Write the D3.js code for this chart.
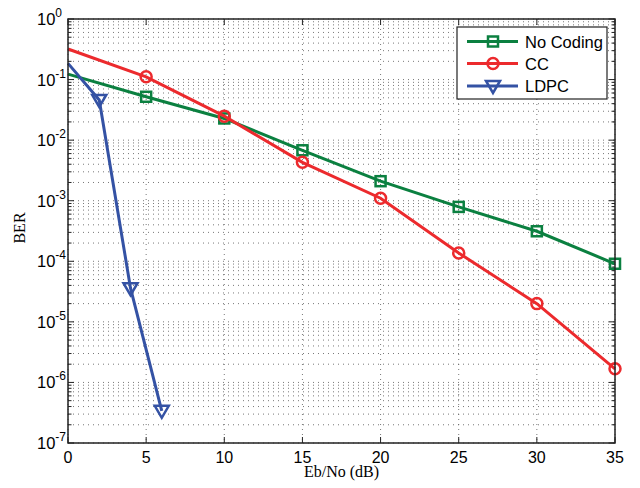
<!DOCTYPE html>
<html><head><meta charset="utf-8">
<script src="https://cdn.jsdelivr.net/npm/d3@7"></script>
<style>body{margin:0;background:#fff}</style>
</head><body>
<svg id="c" width="640" height="488"></svg>
<script>
const xNoCoding = [0,5,10,15,20,25,30,35];
const berNoCoding = [0.123,0.052,0.0228,0.0068,0.0021,0.00079,0.000313,0.000091];
const xCC = [0,5,10,15,20,25,30,35];
const berCC = [0.32,0.111,0.0249,0.0043,0.0011,0.000137,0.00002,0.00000168];
const xLDPC = [0,2,4,6];
const berLDPC = [0.185,0.046,0.000036,0.00000034];
const xTicks = [0,5,10,15,20,25,30,35];
const yExponents = [0,-1,-2,-3,-4,-5,-6,-7];
const seriesNames = ["No Coding","CC","LDPC"];

const svg = d3.select("#c");
const L=68, R=615, T=19, B=443;
const x = d3.scaleLinear().domain([0,35]).range([L,R]);
const y = d3.scaleLog().domain([1e-7,1]).range([B,T]);

// grid
const g = svg.append("g");
const minor=[];
for(let e=-7;e<0;e++) for(let k=1;k<=9;k++) minor.push(k*Math.pow(10,e));
minor.push(1);
g.selectAll(".hy").data(minor).join("line")
 .attr("x1",L).attr("x2",R).attr("y1",d=>y(d)).attr("y2",d=>y(d))
 .attr("stroke","#555").attr("stroke-width",0.8).attr("stroke-dasharray","1,4");
g.selectAll(".vx").data(xTicks).join("line")
 .attr("x1",d=>x(d)).attr("x2",d=>x(d)).attr("y1",T).attr("y2",B)
 .attr("stroke","#555").attr("stroke-width",0.8).attr("stroke-dasharray","1,4");

// ticks
const tk = svg.append("g").attr("stroke","#222").attr("stroke-width",1);
minor.forEach(d=>{
  const isMaj = Math.abs(Math.log10(d)-Math.round(Math.log10(d)))<1e-9;
  const len = isMaj?6:3.5;
  tk.append("line").attr("x1",L).attr("x2",L+len).attr("y1",y(d)).attr("y2",y(d));
  tk.append("line").attr("x1",R).attr("x2",R-len).attr("y1",y(d)).attr("y2",y(d));
});
xTicks.forEach(d=>{
  tk.append("line").attr("x1",x(d)).attr("x2",x(d)).attr("y1",B).attr("y2",B-6);
  tk.append("line").attr("x1",x(d)).attr("x2",x(d)).attr("y1",T).attr("y2",T+6);
});

// x axis labels
svg.append("g").selectAll("text").data(xTicks).join("text")
 .attr("x",d=>x(d)).attr("y",463).attr("text-anchor","middle")
 .attr("font-family","Liberation Sans, Arial, sans-serif").attr("font-size",16)
 .text(d=>d);
// y axis labels (left aligned "10" with superscript exponent)
const yl = svg.append("g").selectAll("text").data(yExponents).join("text")
 .attr("x",37).attr("y",d=>y(Math.pow(10,d))+6).attr("text-anchor","start")
 .attr("font-family","Liberation Sans, Arial, sans-serif").attr("font-size",16.5);
yl.append("tspan").text("10");
yl.append("tspan").attr("dy",-8).attr("font-size",12).text(d=>d);

svg.append("text").attr("x",(L+R)/2).attr("y",477).attr("text-anchor","middle")
 .attr("font-family","Liberation Serif, Times New Roman, serif").attr("font-size",16).text("Eb/No (dB)");
svg.append("text").attr("transform",`translate(25,228) rotate(-90)`).attr("text-anchor","middle")
 .attr("font-family","Liberation Serif, Times New Roman, serif").attr("font-size",16).text("BER");

const colors = ["#0b8040","#ec2a2d","#3452a4"];
const series = [
  {xs:xNoCoding, ys:berNoCoding, m:"square"},
  {xs:xCC, ys:berCC, m:"circle"},
  {xs:xLDPC, ys:berLDPC, m:"tri"}
];
const line = d3.line().x(d=>x(d[0])).y(d=>y(d[1]));
function marker(sel, type, color){
  if(type==="square") sel.append("rect").attr("x",-5).attr("y",-5).attr("width",10).attr("height",10);
  else if(type==="circle") sel.append("circle").attr("r",5.5);
  else sel.append("path").attr("d","M-7,-5 L7,-5 L0,7 Z");
  sel.selectAll("*").attr("fill","none").attr("stroke",color).attr("stroke-width",2.5);
}
series.forEach((s,i)=>{
  const pts = s.xs.map((v,j)=>[v,s.ys[j]]);
  svg.append("path").datum(pts).attr("d",line).attr("fill","none")
    .attr("stroke",colors[i]).attr("stroke-width",3);
  pts.filter(p=>p[0]>0).forEach(p=>{
    const gg = svg.append("g").attr("transform",`translate(${x(p[0])},${y(p[1])})`);
    marker(gg, s.m, colors[i]);
  });
});

// axis box
svg.append("rect").attr("x",L).attr("y",T).attr("width",R-L).attr("height",B-T)
 .attr("fill","none").attr("stroke","#222").attr("stroke-width",1.5);

// legend
const lg = svg.append("g");
lg.append("rect").attr("x",457).attr("y",27).attr("width",150).attr("height",72)
 .attr("fill","#fff").attr("stroke","#222").attr("stroke-width",1.2);
const rowsY=[41.5,63.5,86];
seriesNames.forEach((n,i)=>{
  lg.append("line").attr("x1",467).attr("x2",518).attr("y1",rowsY[i]).attr("y2",rowsY[i])
   .attr("stroke",colors[i]).attr("stroke-width",3);
  const gg = lg.append("g").attr("transform",`translate(493,${rowsY[i]})`);
  marker(gg, series[i].m, colors[i]);
  lg.append("text").attr("x",525).attr("y",rowsY[i]+6)
   .attr("font-family","Liberation Sans, Arial, sans-serif").attr("font-size",16.5).text(n);
});
</script>
</body></html>
